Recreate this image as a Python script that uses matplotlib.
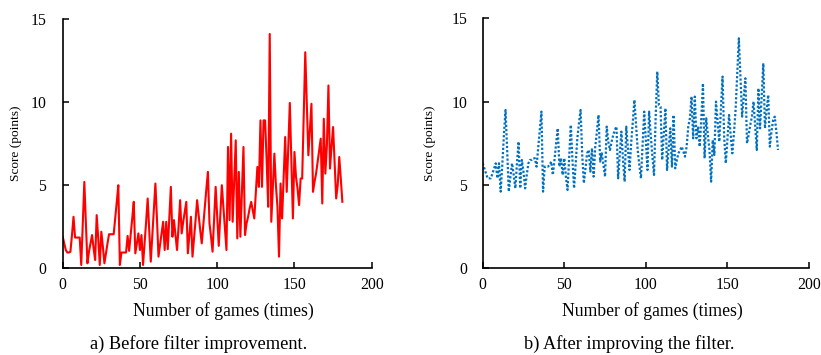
import matplotlib
matplotlib.use("Agg")
import matplotlib.pyplot as plt
import numpy as np

plt.rcParams['font.family'] = ['Liberation Serif', 'DejaVu Serif']

# ---- data ----
games = list(range(182))

score_before = [
    1.9, 1.5, 1.1, 0.95, 0.95, 1.0, 2.0, 3.1, 1.85, 1.85,
    1.85, 1.85, 0.2, 2.7, 5.2, 2.7, 0.3, 1.0, 1.5, 2.0,
    1.2, 0.5, 3.2, 1.8, 0.2, 2.2, 1.3, 0.3, 0.9, 1.5,
    2.05, 2.05, 2.05, 2.05, 3.0, 4.0, 5.0, 0.2, 0.95, 0.95,
    0.95, 0.95, 1.95, 1.05, 2.0, 3.0, 4.0, 0.9, 1.5, 2.1,
    1.1, 2.0, 0.2, 1.5, 2.8, 4.2, 2.3, 0.4, 2.0, 3.6,
    5.1, 3.0, 0.7, 1.4, 2.1, 2.8, 1.1, 2.8, 1.15, 3.0,
    4.9, 1.9, 2.9, 2.0, 1.1, 2.5, 4.1, 2.1, 2.8, 3.4,
    4.0, 0.9, 2.0, 3.1, 0.7, 1.8, 2.9, 4.1, 3.2, 2.3,
    1.5, 2.6, 3.7, 4.8, 5.8, 2.7, 1.9, 1.0, 2.9, 4.9,
    3.1, 1.35, 3.2, 5.0, 3.7, 2.4, 1.1, 7.3, 2.9, 8.1,
    2.8, 5.3, 7.7, 1.8, 5.8, 1.9, 4.6, 7.3, 2.0, 2.7,
    3.1, 3.6, 4.0, 3.5, 3.0, 4.5, 6.1, 4.9, 8.9, 4.9,
    8.9, 8.9, 6.5, 3.7, 14.1, 2.8, 4.8, 6.9, 5.0, 3.7,
    0.7, 5.1, 3.0, 5.5, 7.9, 4.6, 7.3, 9.95, 6.5, 3.0,
    7.0, 5.5, 4.8, 3.8, 5.4, 5.4, 9.2, 13.0, 9.9, 6.8,
    8.3, 9.9, 4.6, 5.2, 5.7, 6.4, 7.1, 7.8, 3.9, 9.0,
    5.7, 7.4, 11.0, 6.0, 7.3, 8.5, 6.4, 4.2, 5.0, 6.7,
    5.4, 4.0,
]

score_after = [
    6.3, 6.0, 5.7, 5.4, 5.4, 5.4, 5.7, 6.0, 6.3, 5.4,
    6.3, 4.6, 6.2, 8.0, 9.5, 7.0, 4.6, 5.5, 6.3, 5.6,
    4.8, 6.3, 7.6, 4.8, 6.5, 5.8, 4.8, 5.6, 6.3, 6.5,
    6.5, 6.6, 6.6, 6.1, 7.2, 8.3, 9.4, 4.6, 6.1, 6.1,
    6.1, 6.2, 6.4, 5.6, 6.5, 7.5, 8.4, 6.1, 6.6, 5.6,
    6.6, 5.5, 4.7, 6.6, 8.6, 6.5, 4.8, 6.3, 7.8, 8.7,
    9.5, 6.8, 5.1, 6.0, 6.9, 7.1, 5.8, 7.2, 5.5, 7.3,
    8.2, 9.2, 6.4, 6.9, 6.2, 5.5, 8.5, 7.6, 7.1, 7.6,
    8.0, 8.3, 8.5, 5.4, 6.8, 8.2, 6.5, 5.2, 8.5, 7.2,
    5.9, 7.5, 8.8, 10.1, 8.6, 7.1, 6.2, 5.4, 7.4, 9.4,
    7.6, 5.9, 9.4, 8.0, 6.7, 5.6, 9.0, 11.8, 9.8, 9.7,
    6.5, 8.0, 9.6, 5.9, 7.2, 8.4, 6.1, 9.2, 6.0, 6.5,
    6.9, 7.1, 7.3, 7.0, 6.7, 7.3, 8.5, 9.0, 10.3, 7.8,
    10.3, 7.8, 8.5, 7.3, 9.0, 11.1, 6.6, 9.0, 8.0, 7.1,
    5.2, 7.7, 6.8, 10.0, 8.8, 7.6, 9.5, 11.5, 7.9, 6.3,
    7.8, 9.2, 8.0, 6.9, 8.1, 9.5, 11.6, 13.8, 11.4, 9.1,
    10.3, 11.4, 7.5, 8.0, 8.6, 9.1, 10.0, 8.5, 7.1, 10.8,
    8.4, 10.3, 12.3, 8.4, 9.5, 10.4, 7.3, 8.2, 8.9, 9.1,
    8.2, 7.1,
]

x_ticks = [0, 50, 100, 150, 200]
y_ticks = [0, 5, 10, 15]
x_label = "Number of games (times)"
y_label = "Score (points)"
captions = ["a) Before filter improvement.", "b) After improving the filter."]

# ---- figure ----
W, H = 821, 355
fig = plt.figure(figsize=(W / 100, H / 100), dpi=100)

ax1 = fig.add_axes([62.7 / W, (H - 268.3) / H, 309.0 / W, 249.3 / H])
ax2 = fig.add_axes([482.7 / W, (H - 268.3) / H, 326.3 / W, 250.0 / H])

ax1.plot(games, score_before, color='#ff0000', lw=1.5)
ax2.plot(games, score_after, color='#0070c0', lw=1.6, linestyle=(0, (1, 0.9)))

for ax, ypad, ylx in [(ax1, 12.0, -0.151), (ax2, 11.0, -0.161)]:
    ax.set_xlim(0, 200)
    ax.set_ylim(0, 15)
    ax.set_xticks(x_ticks)
    ax.set_yticks(y_ticks)
    for s in ['top', 'right']:
        ax.spines[s].set_visible(False)
    for s in ['left', 'bottom']:
        ax.spines[s].set_linewidth(1.2)
        ax.spines[s].set_color('black')
    ax.tick_params(axis='both', direction='in', length=4, width=1.1,
                   colors='black', labelsize=11.3)
    ax.tick_params(axis='x', pad=6.5)
    ax.tick_params(axis='y', pad=ypad)
    ax.set_xlabel(x_label, fontsize=12.7)
    ax.xaxis.set_label_coords(0.52, -0.135)
    ax.set_ylabel(y_label, fontsize=9.6)
    ax.yaxis.set_label_coords(ylx, 0.5)
    ax.yaxis.label.set_verticalalignment('center')

fig.text(199 / W, (H - 344) / H, captions[0], ha='center', va='center', fontsize=13.2)
fig.text(629.5 / W, (H - 344) / H, captions[1], ha='center', va='center', fontsize=13.2)

fig.savefig('out.png', dpi=100)
